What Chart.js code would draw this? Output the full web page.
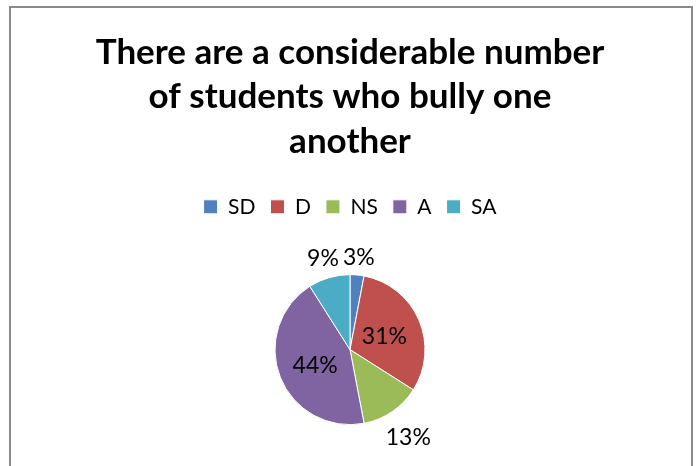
<!DOCTYPE html>
<html lang="en">
<head>
    <meta charset="UTF-8">
    <title>Bullying chart</title>
    <script src="https://cdn.jsdelivr.net/npm/chart.js"></script>
    <style>
        body { margin: 0; background: #fff; overflow: hidden; }
        #frame {
            position: absolute; left: 9px; top: 6px; width: 680px; height: 470px;
            border: 2px solid #8a8a8a; border-bottom: none;
        }
        #wrap { position: absolute; left: 0; top: 0; width: 697px; height: 472px; }
    </style>
</head>
<body>
    <div id="frame"></div>
    <div id="wrap"><canvas id="grafico1"></canvas></div>

    <script>
        const titulo = ["There are a considerable number", "of students who bully one", "another"]
        let categorias = ["SD", "D", "NS", "A", "SA"]
        let valores = [3, 31, 13, 44, 9]
        let cores = ["#4F81BD", "#C0504D", "#9BBB59", "#8064A2", "#4BACC6"]

        const fonte = "Lato, 'Open Sans', sans-serif"

        // percent labels, placed from each arc's own angle and radius
        const rotulos = {
          id: 'rotulos',
          afterDatasetsDraw(chart, args, opts) {
            const c = chart.ctx
            const meta = chart.getDatasetMeta(0)
            const total = valores.reduce((a, b) => a + b, 0)
            c.save()
            c.font = opts.font
            c.fillStyle = '#000'
            c.textAlign = 'center'
            c.textBaseline = 'middle'
            meta.data.forEach((arc, i) => {
              const p = arc.getProps(['x', 'y', 'startAngle', 'endAngle', 'outerRadius'], true)
              const ang = (p.startAngle + p.endAngle) / 2
              const pct = Math.round(valores[i] / total * 100) + '%'
              const cos = Math.cos(ang), sin = Math.sin(ang)
              let d
              if (valores[i] / total >= opts.dentroMin) {
                d = p.outerRadius * opts.fatorDentro
              } else {
                const w = c.measureText(pct).width / 2
                d = p.outerRadius + opts.folga + w * Math.abs(cos) + opts.meiaAltura * Math.abs(sin)
              }
              c.fillText(pct, p.x + cos * d, p.y + sin * d + 2)
            })
            c.restore()
          }
        }

        const ctx = document.getElementById('grafico1')

        let grafico1 = new Chart(ctx, {
          type: 'pie',
          data: {
            labels: categorias,
            datasets: [{
              data: valores,
              backgroundColor: cores,
              borderColor: '#ffffff',
              borderWidth: 1,
              radius: 75
            }]
          },
          plugins: [rotulos],
          options: {
            responsive: true,
            maintainAspectRatio: false,
            animation: false,
            layout: { padding: { left: 11, right: 8, top: 0, bottom: 0 } },
            plugins: {
              title: {
                display: true,
                text: titulo,
                color: '#000',
                font: { family: fonte, size: 35, weight: 'bold', lineHeight: 1.26 },
                padding: { top: 31, bottom: 18 }
              },
              legend: {
                position: 'top',
                labels: {
                  color: '#000',
                  font: { family: fonte, size: 21 },
                  boxWidth: 14,
                  boxHeight: 14,
                  padding: 15
                }
              },
              tooltip: { enabled: false },
              rotulos: {
                font: "23px " + fonte,
                dentroMin: 0.2,
                fatorDentro: 0.5,
                folga: 7,
                meiaAltura: 11
              }
            }
          }
        })
    </script>
</body>
</html>
